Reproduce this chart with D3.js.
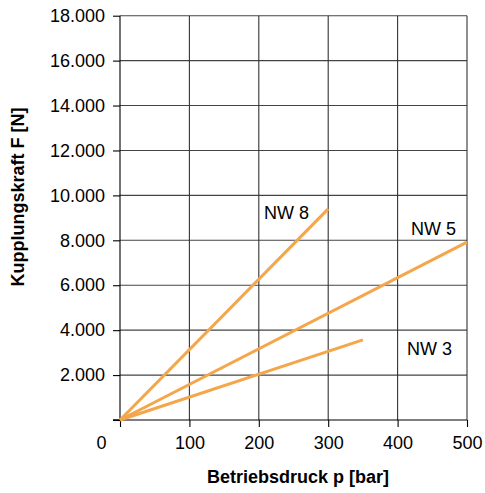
<!DOCTYPE html>
<html><head><meta charset="utf-8">
<script src="https://cdn.jsdelivr.net/npm/d3@7"></script>
<style>body{margin:0;background:#fff}text{font-family:"Liberation Sans",Arial,sans-serif}</style>
</head><body><svg id="c" width="485" height="493"></svg>
<script>
const xTicks = [0,100,200,300,400,500];
const yTicks = [0,2000,4000,6000,8000,10000,12000,14000,16000,18000];
const seriesNames = ["NW 8","NW 5","NW 3"];
const seriesP = [[0,300],[0,500],[0,350]];
const seriesF = [[0,9400],[0,7920],[0,3570]];
const labelPos = [[264,219],[411,235],[407,355]];

const svg = d3.select("#c");
const L=120,R=467,T=15.7,B=420;
const x = d3.scaleLinear().domain([0,500]).range([L,R]);
const y = d3.scaleLinear().domain([0,18000]).range([B,T]);
const fmt = d => d===0 ? "" : d3.format(",")(d).replace(/,/g,".");

// grid
svg.append("g").selectAll("line").data(yTicks.slice(1)).join("line")
  .attr("x1",L).attr("x2",R).attr("y1",d=>y(d)).attr("y2",d=>y(d))
  .attr("stroke","#444").attr("stroke-width",1.1);
svg.append("g").selectAll("line").data(xTicks.slice(1)).join("line")
  .attr("x1",d=>x(d)).attr("x2",d=>x(d)).attr("y1",T).attr("y2",B)
  .attr("stroke","#333").attr("stroke-width",1.1);

// axes
const ya = svg.append("g").attr("transform",`translate(${L},0)`)
  .call(d3.axisLeft(y).tickValues(yTicks).tickFormat(fmt).tickSize(7).tickPadding(8));
const xa = svg.append("g").attr("transform",`translate(0,${B})`)
  .call(d3.axisBottom(x).tickValues(xTicks).tickFormat(d=>d).tickSize(7).tickPadding(9));
[ya,xa].forEach(a=>{
  a.select(".domain").attr("stroke","#000").attr("stroke-width",1.1);
  a.selectAll(".tick line").attr("stroke","#000").attr("stroke-width",1.1);
  a.selectAll("text").attr("font-size",18).attr("fill","#000").attr("font-family",'"Liberation Sans",Arial,sans-serif');
});
ya.select(".domain").attr("d",`M-7,${B}H0V${T}`);
xa.select(".domain").attr("d",`M${L-7},0H${R}`);
xa.selectAll(".tick").filter(d=>d===0).select("text").attr("dx",-19);

// lines
const line = d3.line();
seriesNames.forEach((n,i)=>{
  svg.append("path")
    .attr("d",line(seriesP[i].map((p,j)=>[x(p),y(seriesF[i][j])])))
    .attr("stroke","#F5A54A").attr("stroke-width",3).attr("fill","none");
  svg.append("text").attr("x",labelPos[i][0]).attr("y",labelPos[i][1])
    .attr("font-size",18).attr("fill","#000").text(n);
});

// titles
svg.append("text").attr("x",298).attr("y",483).attr("text-anchor","middle")
  .attr("font-size",18).attr("font-weight","bold").text("Betriebsdruck p [bar]");
svg.append("text").attr("transform","translate(24,197) rotate(-90)").attr("text-anchor","middle")
  .attr("font-size",18).attr("font-weight","bold").text("Kupplungskraft F [N]");
</script></body></html>
